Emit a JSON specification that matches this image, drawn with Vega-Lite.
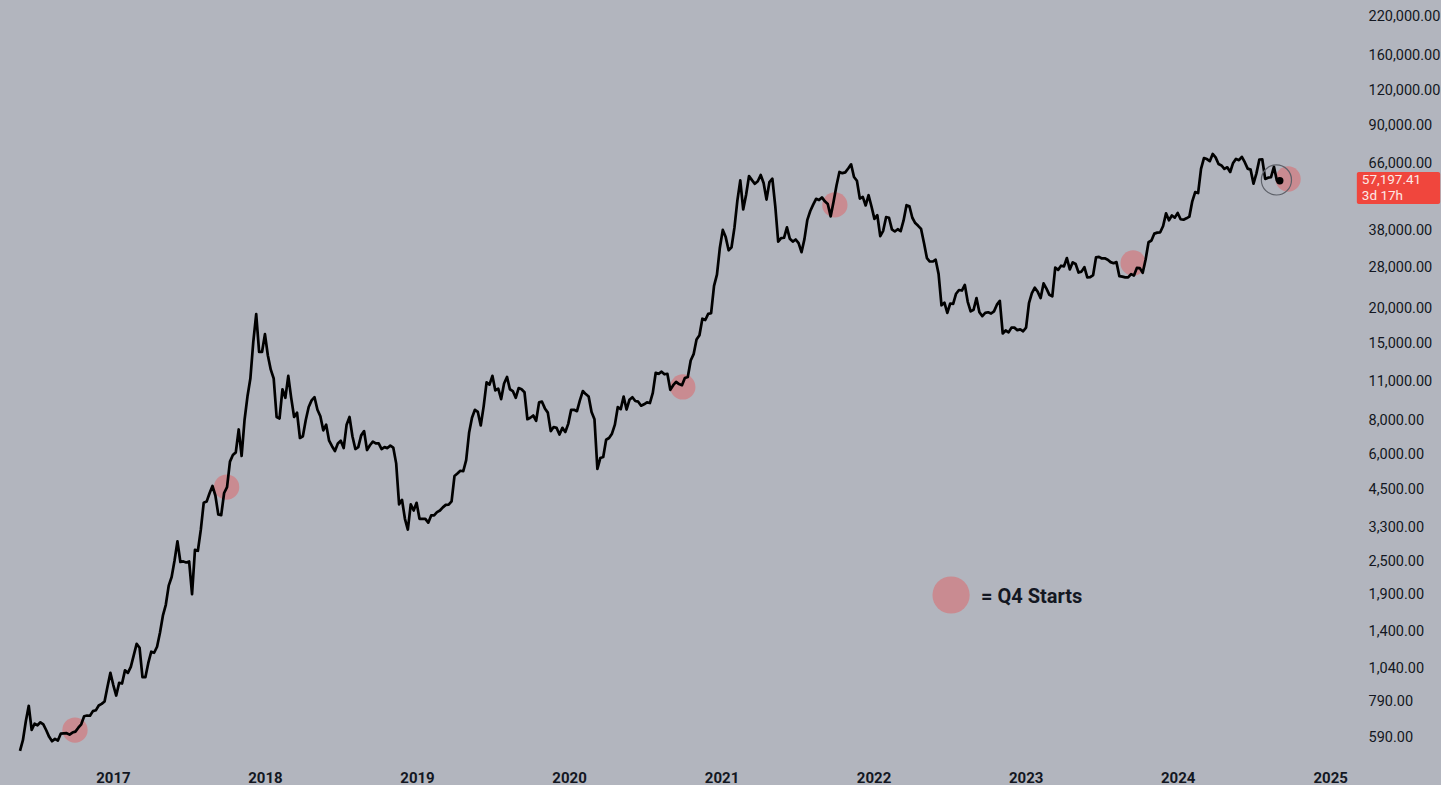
{
"$schema": "https://vega.github.io/schema/vega-lite/v6.json",
"width": 1356, "height": 760, "padding": 0, "background": "#b2b5be",
"config": {"view": {"stroke": null}},
"datasets": {
"btc": [
{"d":"2016-05-23","c":527},{"d":"2016-05-30","c":575},{"d":"2016-06-06","c":672},{"d":"2016-06-13","c":763},{"d":"2016-06-20","c":626},{"d":"2016-06-27","c":658},{"d":"2016-07-04","c":650},{"d":"2016-07-11","c":666},{"d":"2016-07-18","c":655},{"d":"2016-07-25","c":624},{"d":"2016-08-01","c":591},{"d":"2016-08-08","c":570},{"d":"2016-08-15","c":581},{"d":"2016-08-22","c":573},{"d":"2016-08-29","c":607},{"d":"2016-09-05","c":608},{"d":"2016-09-12","c":609},{"d":"2016-09-19","c":602},{"d":"2016-09-26","c":612},{"d":"2016-10-03","c":617},{"d":"2016-10-10","c":637},{"d":"2016-10-17","c":655},{"d":"2016-10-24","c":700},{"d":"2016-10-31","c":704},{"d":"2016-11-07","c":703},{"d":"2016-11-14","c":730},{"d":"2016-11-21","c":735},{"d":"2016-11-28","c":765},{"d":"2016-12-05","c":775},{"d":"2016-12-12","c":790},{"d":"2016-12-19","c":893},{"d":"2016-12-26","c":1000},
{"d":"2017-01-02","c":905},{"d":"2017-01-09","c":830},{"d":"2017-01-16","c":921},{"d":"2017-01-23","c":916},{"d":"2017-01-30","c":1021},{"d":"2017-02-06","c":1000},{"d":"2017-02-13","c":1050},{"d":"2017-02-20","c":1155},{"d":"2017-02-27","c":1270},{"d":"2017-03-06","c":1230},{"d":"2017-03-13","c":966},{"d":"2017-03-20","c":965},{"d":"2017-03-27","c":1085},{"d":"2017-04-03","c":1190},{"d":"2017-04-10","c":1180},{"d":"2017-04-17","c":1240},{"d":"2017-04-24","c":1390},{"d":"2017-05-01","c":1600},{"d":"2017-05-08","c":1750},{"d":"2017-05-15","c":2050},{"d":"2017-05-22","c":2200},{"d":"2017-05-29","c":2520},{"d":"2017-06-05","c":2950},{"d":"2017-06-12","c":2490},{"d":"2017-06-19","c":2500},{"d":"2017-06-26","c":2480},{"d":"2017-07-03","c":2500},{"d":"2017-07-10","c":1910},{"d":"2017-07-17","c":2750},{"d":"2017-07-24","c":2730},{"d":"2017-07-31","c":3240},{"d":"2017-08-07","c":4050},{"d":"2017-08-14","c":4090},{"d":"2017-08-21","c":4380},{"d":"2017-08-28","c":4650},{"d":"2017-09-04","c":4300},{"d":"2017-09-11","c":3680},{"d":"2017-09-18","c":3660},{"d":"2017-09-25","c":4390},{"d":"2017-10-02","c":4610},{"d":"2017-10-09","c":5680},{"d":"2017-10-16","c":6000},{"d":"2017-10-23","c":6130},{"d":"2017-10-30","c":7400},{"d":"2017-11-06","c":5950},{"d":"2017-11-13","c":8000},{"d":"2017-11-20","c":9700},{"d":"2017-11-27","c":11250},{"d":"2017-12-04","c":15200},{"d":"2017-12-11","c":19100},{"d":"2017-12-18","c":14000},{"d":"2017-12-25","c":14000},
{"d":"2018-01-01","c":16200},{"d":"2018-01-08","c":13600},{"d":"2018-01-15","c":12100},{"d":"2018-01-22","c":11250},{"d":"2018-01-29","c":8200},{"d":"2018-02-05","c":8100},{"d":"2018-02-12","c":10300},{"d":"2018-02-19","c":9600},{"d":"2018-02-26","c":11500},{"d":"2018-03-05","c":9600},{"d":"2018-03-12","c":8200},{"d":"2018-03-19","c":8500},{"d":"2018-03-26","c":6900},{"d":"2018-04-02","c":7000},{"d":"2018-04-09","c":8000},{"d":"2018-04-16","c":8900},{"d":"2018-04-23","c":9400},{"d":"2018-04-30","c":9650},{"d":"2018-05-07","c":8700},{"d":"2018-05-14","c":8250},{"d":"2018-05-21","c":7350},{"d":"2018-05-28","c":7700},{"d":"2018-06-04","c":6750},{"d":"2018-06-11","c":6450},{"d":"2018-06-18","c":6200},{"d":"2018-06-25","c":6600},{"d":"2018-07-02","c":6750},{"d":"2018-07-09","c":6350},{"d":"2018-07-16","c":7700},{"d":"2018-07-23","c":8200},{"d":"2018-07-30","c":7000},{"d":"2018-08-06","c":6300},{"d":"2018-08-13","c":6400},{"d":"2018-08-20","c":7050},{"d":"2018-08-27","c":7300},{"d":"2018-09-03","c":6250},{"d":"2018-09-10","c":6500},{"d":"2018-09-17","c":6700},{"d":"2018-09-24","c":6600},{"d":"2018-10-01","c":6600},{"d":"2018-10-08","c":6300},{"d":"2018-10-15","c":6400},{"d":"2018-10-22","c":6350},{"d":"2018-10-29","c":6480},{"d":"2018-11-05","c":6380},{"d":"2018-11-12","c":5600},{"d":"2018-11-19","c":4000},{"d":"2018-11-26","c":4150},{"d":"2018-12-03","c":3550},{"d":"2018-12-10","c":3250},{"d":"2018-12-17","c":4000},{"d":"2018-12-24","c":3800},{"d":"2018-12-31","c":4050},
{"d":"2019-01-07","c":3550},{"d":"2019-01-14","c":3550},{"d":"2019-01-21","c":3550},{"d":"2019-01-28","c":3440},{"d":"2019-02-04","c":3650},{"d":"2019-02-11","c":3650},{"d":"2019-02-18","c":3750},{"d":"2019-02-25","c":3800},{"d":"2019-03-04","c":3900},{"d":"2019-03-11","c":3980},{"d":"2019-03-18","c":3990},{"d":"2019-03-25","c":4100},{"d":"2019-04-01","c":5050},{"d":"2019-04-08","c":5150},{"d":"2019-04-15","c":5270},{"d":"2019-04-22","c":5250},{"d":"2019-04-29","c":5750},{"d":"2019-05-06","c":7200},{"d":"2019-05-13","c":8150},{"d":"2019-05-20","c":8700},{"d":"2019-05-27","c":8550},{"d":"2019-06-03","c":7650},{"d":"2019-06-10","c":8950},{"d":"2019-06-17","c":10900},{"d":"2019-06-24","c":10700},{"d":"2019-07-01","c":11500},{"d":"2019-07-08","c":10200},{"d":"2019-07-15","c":10350},{"d":"2019-07-22","c":9500},{"d":"2019-07-29","c":10800},{"d":"2019-08-05","c":11400},{"d":"2019-08-12","c":10300},{"d":"2019-08-19","c":10150},{"d":"2019-08-26","c":9600},{"d":"2019-09-02","c":10400},{"d":"2019-09-09","c":10300},{"d":"2019-09-16","c":10050},{"d":"2019-09-23","c":8050},{"d":"2019-09-30","c":8150},{"d":"2019-10-07","c":8300},{"d":"2019-10-14","c":7950},{"d":"2019-10-21","c":9250},{"d":"2019-10-28","c":9300},{"d":"2019-11-04","c":8800},{"d":"2019-11-11","c":8500},{"d":"2019-11-18","c":7300},{"d":"2019-11-25","c":7550},{"d":"2019-12-02","c":7500},{"d":"2019-12-09","c":7100},{"d":"2019-12-16","c":7500},{"d":"2019-12-23","c":7250},{"d":"2019-12-30","c":7750},
{"d":"2020-01-06","c":8700},{"d":"2020-01-13","c":8700},{"d":"2020-01-20","c":8600},{"d":"2020-01-27","c":9400},{"d":"2020-02-03","c":10150},{"d":"2020-02-10","c":9900},{"d":"2020-02-17","c":9700},{"d":"2020-02-24","c":8550},{"d":"2020-03-02","c":8050},{"d":"2020-03-09","c":5350},{"d":"2020-03-16","c":5850},{"d":"2020-03-23","c":5900},{"d":"2020-03-30","c":6800},{"d":"2020-04-06","c":6900},{"d":"2020-04-13","c":7150},{"d":"2020-04-20","c":7700},{"d":"2020-04-27","c":8900},{"d":"2020-05-04","c":8750},{"d":"2020-05-11","c":9700},{"d":"2020-05-18","c":8720},{"d":"2020-05-25","c":9450},{"d":"2020-06-01","c":9650},{"d":"2020-06-08","c":9350},{"d":"2020-06-15","c":9300},{"d":"2020-06-22","c":9000},{"d":"2020-06-29","c":9100},{"d":"2020-07-06","c":9250},{"d":"2020-07-13","c":9200},{"d":"2020-07-20","c":10000},{"d":"2020-07-27","c":11800},{"d":"2020-08-03","c":11700},{"d":"2020-08-10","c":11900},{"d":"2020-08-17","c":11650},{"d":"2020-08-24","c":11700},{"d":"2020-08-31","c":10250},{"d":"2020-09-07","c":10650},{"d":"2020-09-14","c":10950},{"d":"2020-09-21","c":10750},{"d":"2020-09-28","c":10650},{"d":"2020-10-05","c":11300},{"d":"2020-10-12","c":11400},{"d":"2020-10-19","c":13050},{"d":"2020-10-26","c":13750},{"d":"2020-11-02","c":15500},{"d":"2020-11-09","c":16050},{"d":"2020-11-16","c":18400},{"d":"2020-11-23","c":18200},{"d":"2020-11-30","c":19150},{"d":"2020-12-07","c":19250},{"d":"2020-12-14","c":24100},{"d":"2020-12-21","c":26450},{"d":"2020-12-28","c":33000},
{"d":"2021-01-04","c":38200},{"d":"2021-01-11","c":36000},{"d":"2021-01-18","c":32300},{"d":"2021-01-25","c":33100},{"d":"2021-02-01","c":38900},{"d":"2021-02-08","c":48600},{"d":"2021-02-15","c":57400},{"d":"2021-02-22","c":45200},{"d":"2021-03-01","c":51000},{"d":"2021-03-08","c":59500},{"d":"2021-03-15","c":57500},{"d":"2021-03-22","c":55800},{"d":"2021-03-29","c":57000},{"d":"2021-04-05","c":60000},{"d":"2021-04-12","c":56200},{"d":"2021-04-19","c":49000},{"d":"2021-04-26","c":56600},{"d":"2021-05-03","c":58200},{"d":"2021-05-10","c":46400},{"d":"2021-05-17","c":34700},{"d":"2021-05-24","c":35700},{"d":"2021-05-31","c":35800},{"d":"2021-06-07","c":39000},{"d":"2021-06-14","c":35500},{"d":"2021-06-21","c":34700},{"d":"2021-06-28","c":35300},{"d":"2021-07-05","c":34250},{"d":"2021-07-12","c":31800},{"d":"2021-07-19","c":35400},{"d":"2021-07-26","c":41500},{"d":"2021-08-02","c":44600},{"d":"2021-08-09","c":47000},{"d":"2021-08-16","c":49300},{"d":"2021-08-23","c":48800},{"d":"2021-08-30","c":49900},{"d":"2021-09-06","c":48300},{"d":"2021-09-13","c":47250},{"d":"2021-09-20","c":42700},{"d":"2021-09-27","c":48200},{"d":"2021-10-04","c":55000},{"d":"2021-10-11","c":61500},{"d":"2021-10-18","c":60900},{"d":"2021-10-25","c":61300},{"d":"2021-11-01","c":63300},{"d":"2021-11-08","c":65500},{"d":"2021-11-15","c":59000},{"d":"2021-11-22","c":57200},{"d":"2021-11-29","c":49400},{"d":"2021-12-06","c":50100},{"d":"2021-12-13","c":46700},{"d":"2021-12-20","c":50800},{"d":"2021-12-27","c":46300},
{"d":"2022-01-03","c":41800},{"d":"2022-01-10","c":43100},{"d":"2022-01-17","c":36300},{"d":"2022-01-24","c":37900},{"d":"2022-01-31","c":42400},{"d":"2022-02-07","c":42200},{"d":"2022-02-14","c":38350},{"d":"2022-02-21","c":37700},{"d":"2022-02-28","c":38400},{"d":"2022-03-07","c":37800},{"d":"2022-03-14","c":41300},{"d":"2022-03-21","c":46800},{"d":"2022-03-28","c":46400},{"d":"2022-04-04","c":42200},{"d":"2022-04-11","c":40400},{"d":"2022-04-18","c":39500},{"d":"2022-04-25","c":38500},{"d":"2022-05-02","c":34300},{"d":"2022-05-09","c":30300},{"d":"2022-05-16","c":29450},{"d":"2022-05-23","c":29450},{"d":"2022-05-30","c":29900},{"d":"2022-06-06","c":26600},{"d":"2022-06-13","c":20550},{"d":"2022-06-20","c":21000},{"d":"2022-06-27","c":19300},{"d":"2022-07-04","c":20850},{"d":"2022-07-11","c":20800},{"d":"2022-07-18","c":22600},{"d":"2022-07-25","c":23300},{"d":"2022-08-01","c":23200},{"d":"2022-08-08","c":24300},{"d":"2022-08-15","c":21150},{"d":"2022-08-22","c":19550},{"d":"2022-08-29","c":19800},{"d":"2022-09-05","c":21800},{"d":"2022-09-12","c":19400},{"d":"2022-09-19","c":18800},{"d":"2022-09-26","c":19300},{"d":"2022-10-03","c":19400},{"d":"2022-10-10","c":19200},{"d":"2022-10-17","c":19550},{"d":"2022-10-24","c":20650},{"d":"2022-10-31","c":21300},{"d":"2022-11-07","c":16300},{"d":"2022-11-14","c":16700},{"d":"2022-11-21","c":16450},{"d":"2022-11-28","c":17100},{"d":"2022-12-05","c":17100},{"d":"2022-12-12","c":16750},{"d":"2022-12-19","c":16850},{"d":"2022-12-26","c":16600},
{"d":"2023-01-02","c":17100},{"d":"2023-01-09","c":20900},{"d":"2023-01-16","c":22700},{"d":"2023-01-23","c":23750},{"d":"2023-01-30","c":22950},{"d":"2023-02-06","c":21800},{"d":"2023-02-13","c":24600},{"d":"2023-02-20","c":23550},{"d":"2023-02-27","c":22400},{"d":"2023-03-06","c":22100},{"d":"2023-03-13","c":28000},{"d":"2023-03-20","c":27500},{"d":"2023-03-27","c":28450},{"d":"2023-04-03","c":28300},{"d":"2023-04-10","c":30300},{"d":"2023-04-17","c":27600},{"d":"2023-04-24","c":29250},{"d":"2023-05-01","c":28850},{"d":"2023-05-08","c":26900},{"d":"2023-05-15","c":27100},{"d":"2023-05-22","c":28100},{"d":"2023-05-29","c":25850},{"d":"2023-06-05","c":25900},{"d":"2023-06-12","c":26350},{"d":"2023-06-19","c":30500},{"d":"2023-06-26","c":30600},{"d":"2023-07-03","c":30200},{"d":"2023-07-10","c":30250},{"d":"2023-07-17","c":29900},{"d":"2023-07-24","c":29300},{"d":"2023-07-31","c":29050},{"d":"2023-08-07","c":29300},{"d":"2023-08-14","c":26100},{"d":"2023-08-21","c":26000},{"d":"2023-08-28","c":25850},{"d":"2023-09-04","c":25850},{"d":"2023-09-11","c":26550},{"d":"2023-09-18","c":26250},{"d":"2023-09-25","c":27950},{"d":"2023-10-02","c":27900},{"d":"2023-10-09","c":26850},{"d":"2023-10-16","c":29950},{"d":"2023-10-23","c":34500},{"d":"2023-10-30","c":35000},{"d":"2023-11-06","c":37050},{"d":"2023-11-13","c":37350},{"d":"2023-11-20","c":37450},{"d":"2023-11-27","c":39450},{"d":"2023-12-04","c":43750},{"d":"2023-12-11","c":41350},{"d":"2023-12-18","c":43000},{"d":"2023-12-25","c":42250},
{"d":"2024-01-01","c":43900},{"d":"2024-01-08","c":41700},{"d":"2024-01-15","c":41550},{"d":"2024-01-22","c":42000},{"d":"2024-01-29","c":42600},{"d":"2024-02-05","c":48300},{"d":"2024-02-12","c":52100},{"d":"2024-02-19","c":51700},{"d":"2024-02-26","c":63100},{"d":"2024-03-04","c":68950},{"d":"2024-03-11","c":68400},{"d":"2024-03-18","c":67200},{"d":"2024-03-25","c":71300},{"d":"2024-04-01","c":69350},{"d":"2024-04-08","c":65650},{"d":"2024-04-15","c":64900},{"d":"2024-04-22","c":63100},{"d":"2024-04-29","c":63900},{"d":"2024-05-06","c":61500},{"d":"2024-05-13","c":66250},{"d":"2024-05-20","c":68500},{"d":"2024-05-27","c":67750},{"d":"2024-06-03","c":69650},{"d":"2024-06-10","c":66650},{"d":"2024-06-17","c":63200},{"d":"2024-06-24","c":62700},{"d":"2024-07-01","c":55850},{"d":"2024-07-08","c":60800},{"d":"2024-07-15","c":68150},{"d":"2024-07-22","c":68250},{"d":"2024-07-29","c":58100},{"d":"2024-08-05","c":58700},{"d":"2024-08-12","c":58900},{"d":"2024-08-19","c":64200},{"d":"2024-08-26","c":57300},{"d":"2024-09-02","c":57197.41}
],
"q4": [
{"d":"2016-10-02","c":625},{"d":"2017-10-01","c":4610},{"d":"2020-09-30","c":10500},{"d":"2021-09-30","c":46900},{"d":"2023-09-16","c":29090},{"d":"2024-09-22","c":58040}
]
},
"encoding": {
"x": {"field": "d", "type": "temporal",
 "scale": {"type": "utc", "domain": [{"year": 2016, "month": 4, "date": 5, "utc": true}, {"year": 2025, "month": 3, "date": 4, "utc": true}]},
 "axis": {"title": null, "values": [{"year":2017,"month":1,"date":1,"utc":true},{"year":2018,"month":1,"date":1,"utc":true},{"year":2019,"month":1,"date":1,"utc":true},{"year":2020,"month":1,"date":1,"utc":true},{"year":2021,"month":1,"date":1,"utc":true},{"year":2022,"month":1,"date":1,"utc":true},{"year":2023,"month":1,"date":1,"utc":true},{"year":2024,"month":1,"date":1,"utc":true},{"year":2025,"month":1,"date":1,"utc":true}],
  "labelExpr": "utcFormat(datum.value, '%Y')", "labelFont": "Roboto", "labelFontWeight": "bold", "labelFontSize": 15, "labelColor": "#131722",
  "ticks": false, "domain": false, "grid": false, "labelPadding": 10, "labelFlush": false, "labelOverlap": false}},
"y": {"field": "c", "type": "quantitative",
 "scale": {"type": "log", "domain": [488.5, 252950], "nice": false, "zero": false},
 "axis": {"orient": "right", "title": null, "values": [590, 790, 1040, 1400, 1900, 2500, 3300, 4500, 6000, 8000, 11000, 15000, 20000, 28000, 38000, 66000, 90000, 120000, 160000, 220000],
  "format": ",.2f", "labelFont": "Roboto", "labelFontSize": 14.5, "labelColor": "#131722",
  "ticks": false, "domain": false, "grid": false, "labelPadding": 12, "labelFlush": false, "labelOverlap": false}}
},
"layer": [
{"data": {"name": "q4"}, "mark": {"type": "circle", "size": 640, "color": "#c98b91", "opacity": 1}},
{"data": {"name": "btc"}, "mark": {"type": "line", "color": "#000000", "strokeWidth": 2.7, "strokeJoin": "round"}},
{"data": {"values": [{"d": "2024-08-25", "c": 57600}]}, "mark": {"type": "point", "shape": "circle", "filled": false, "size": 908, "stroke": "#5d6068", "strokeWidth": 1.2, "opacity": 1}},
{"data": {"values": [{"d": "2024-09-02", "c": 57197.41}]}, "mark": {"type": "circle", "size": 55, "color": "#000000", "opacity": 1}},
{"data": {"values": [{"d": "2022-07-06", "c": 1897}]}, "mark": {"type": "circle", "size": 1385, "color": "#c98b91", "opacity": 1}},
{"data": {"values": [{"d": "2022-09-16", "c": 1866, "t": "= Q4 Starts"}]}, "mark": {"type": "text", "align": "left", "baseline": "middle", "font": "Roboto", "fontWeight": "bold", "fontSize": 20, "color": "#131722", "clip": false}, "encoding": {"text": {"field": "t"}}},
{"data": {"values": [{"d": "2025-03-06", "c": 61500, "d2": "2025-09-22", "c2": 47270}]}, "mark": {"type": "rect", "color": "#f0463d", "cornerRadius": 2, "clip": false}, "encoding": {"x2": {"field": "d2"}, "y2": {"field": "c2"}}},
{"data": {"values": [{"d": "2025-03-18", "c": 57600, "t": "57,197.41"}, {"d": "2025-03-18", "c": 50480, "t": "3d 17h"}]}, "mark": {"type": "text", "align": "left", "baseline": "middle", "font": "Roboto", "fontSize": 13.5, "color": "#fde8e6", "clip": false}, "encoding": {"text": {"field": "t"}}}
]
}
